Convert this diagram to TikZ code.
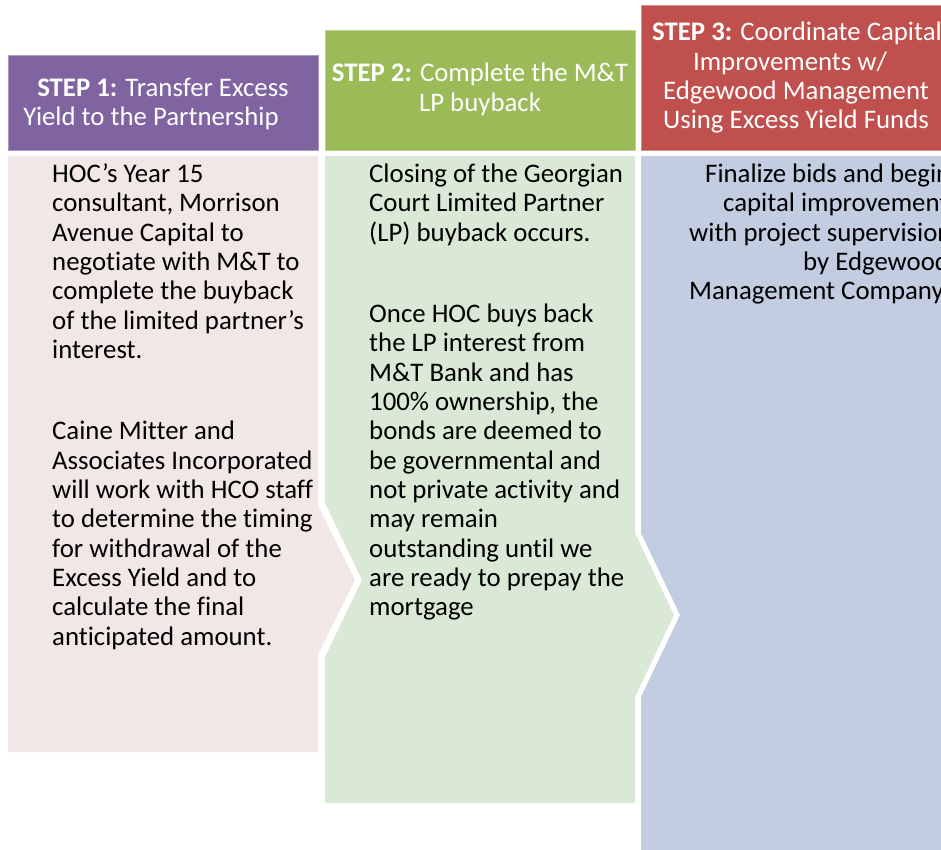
\documentclass[tikz,border=0pt]{standalone}
\usepackage{fontspec}
\setmainfont{Carlito}[Ligatures=NoCommon]
\definecolor{hpurple}{HTML}{8064A2}
\definecolor{hgreen}{HTML}{9BBB59}
\definecolor{hred}{HTML}{C0504D}
\definecolor{bpink}{HTML}{F2E7E7}
\definecolor{bgreen}{HTML}{DAE9D6}
\definecolor{bblue}{HTML}{C3CDE1}
\begin{document}
\begin{tikzpicture}[x=1pt,y=-1pt,
  font=\fontsize{26.8}{29.35}\selectfont,
  bt/.style={anchor=base west,inner sep=0pt,text=black},
  ht/.style={anchor=base,inner sep=0pt,text=white},
  hbox/.style={line width=1pt}]
\useasboundingbox (0,0) rectangle (941,850);
\clip (0,0) rectangle (941,850);
% headers
\path[hbox,fill=hpurple,draw=hpurple!65!white] (8,56) rectangle (318,151);
\path[hbox,fill=hgreen,draw=hgreen!65!white] (325,31) rectangle (635,151);
\path[hbox,fill=hred,draw=hred!65!white] (641,6) rectangle (955,151);
% bodies
\fill[bpink] (8,156) -- (318,156) -- (318,505) -- (355,580) -- (318,655) -- (318,752) -- (8,752) -- cycle;
\fill[bgreen] (325,156) -- (635,156) -- (635,533) -- (674,615) -- (635,697) -- (635,803) -- (325,803) -- (325,657) -- (362,580) -- (325,503) -- cycle;
\fill[bblue] (641,156) -- (955,156) -- (955,860) -- (641,860) -- (641,697) -- (680,615) -- (641,533) -- cycle;
% header texts
\node[ht] (h1a) at (163,96.7) {\textbf{STEP 1:} Transfer Excess};
\node[ht] (h1b) at (151,126) {Yield to the Partnership};
\node[ht] (h2a) at (480,82) {\textbf{STEP 2:} Complete the M\&T};
\node[ht] (h2b) at (480,111.3) {LP buyback};
\node[ht] (h3a) at (797,41) {\textbf{STEP 3:} Coordinate Capital};
\node[ht] (h3b) at (790,70.3) {Improvements w/};
\node[ht] (h3c) at (796,99.7) {Edgewood Management};
\node[ht] (h3d) at (796,129) {Using Excess Yield Funds};
% body 1
\foreach \t [count=\i from 0] in {HOC’s Year 15, {consultant, Morrison}, Avenue Capital to, negotiate with M\&T to, complete the buyback, of the limited partner’s, interest.}
  \node[bt] (pa\i) at (52,182.3+29.35*\i) {\t};
\foreach \t [count=\i from 0] in {Caine Mitter and, Associates Incorporated, will work with HCO staff, to determine the timing, for withdrawal of the, Excess Yield and to, calculate the final, anticipated amount.}
  \node[bt] (pb\i) at (52,439.7+29.35*\i) {\t};
% body 2
\foreach \t [count=\i from 0] in {Closing of the Georgian, Court Limited Partner, (LP) buyback occurs.}
  \node[bt] (ga\i) at (369,182.3+29.35*\i) {\t};
\foreach \t [count=\i from 0] in {Once HOC buys back, the LP interest from, M\&T Bank and has, {100\% ownership, the}, bonds are deemed to, be governmental and, not private activity and, may remain, outstanding until we, are ready to prepay the, mortgage}
  \node[bt] (gb\i) at (369,322.3+29.35*\i) {\t};
% body 3 (text runs past the right edge, as in the reference)
\foreach \t/\xx [count=\i from 0] in {Finalize bids and begin/705, capital improvements/723, with project supervision/689, by Edgewood/803, Management Company/689}
  \node[bt] (ba\i) at (\xx,182.3+29.35*\i) {\t};
\end{tikzpicture}
\end{document}
